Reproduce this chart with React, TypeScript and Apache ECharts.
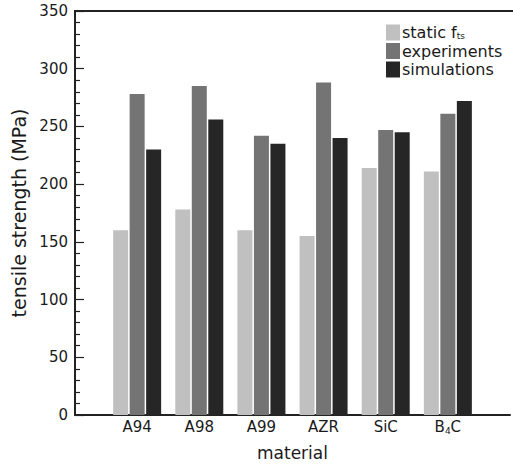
import React, { useEffect, useRef } from "react";
import * as echarts from "echarts";

const materials = ["", "A94", "A98", "A99", "AZR", "SiC", "B4C", ""];
const staticFts = [160, 178, 160, 155, 214, 211];
const experiments = [278, 285, 242, 288, 247, 261];
const simulations = [230, 256, 235, 240, 245, 272];
const yTicks = { min: 0, max: 350, interval: 50 };

const FONT = "DejaVu Sans";
const AXIS = "#222222";
const TXT = "#1a1a1a";

export default function App() {
  const ref = useRef<HTMLDivElement>(null);
  useEffect(() => {
    if (!ref.current) return;
    const chart = echarts.init(ref.current, undefined, { renderer: "svg" });
    const mk = (vals: number[]) => vals.map((v, i) => [i + 1, v]);
    const barCommon = { type: "bar", barWidth: 15, barGap: "10%", xAxisIndex: 0, yAxisIndex: 0 };
    chart.setOption({
      animation: false,
      backgroundColor: "#ffffff",
      textStyle: { fontFamily: FONT },
      grid: {
        left: 75,
        top: 11,
        bottom: 50,
        right: -9.5,
        show: false,
      },
      graphic: [
        {
          type: "line",
          silent: true,
          z: 10,
          shape: { x1: 74, y1: 11, x2: 513, y2: 11 },
          style: { stroke: AXIS, lineWidth: 2 },
        },
      ],
      legend: {
        orient: "vertical",
        left: 386,
        top: 24.5,
        padding: 0,
        itemWidth: 14,
        itemHeight: 16,
        itemGap: 2.5,
        icon: "rect",
        selectedMode: false,
        data: ["static fts", "experiments", "simulations"],
        formatter: (name: string) =>
          name === "static fts" ? "{n|static f}{s|ts}" : "{n|" + name + "}",
        textStyle: {
          fontFamily: FONT,
          fontSize: 16,
          color: TXT,
          padding: [0, 0, 0, -3],
          rich: {
            n: { fontFamily: FONT, fontSize: 16, lineHeight: 16, color: TXT },
            s: {
              fontFamily: FONT,
              fontSize: 9,
              lineHeight: 6,
              verticalAlign: "bottom",
              color: TXT,
            },
          },
        },
      },
      xAxis: {
        type: "value",
        min: 0,
        max: 7,
        interval: 1,
        name: "material",
        nameLocation: "middle",
        nameGap: 29,
        nameTextStyle: { fontFamily: FONT, fontSize: 17, color: TXT },
        axisLine: { show: true, onZero: false, lineStyle: { color: AXIS, width: 2 } },
        axisTick: { show: false },
        splitLine: { show: false },
        axisLabel: {
          margin: 4,
          color: TXT,
          fontFamily: FONT,
          fontSize: 15,
          formatter: (v: number) => {
            const n = materials[Math.round(v)] || "";
            if (!n) return "";
            if (n === "B4C") return "{a|B}{s|4}{a|C}";
            return "{a|" + n + "}";
          },
          rich: {
            a: { fontFamily: FONT, fontSize: 15, lineHeight: 16, color: TXT },
            s: {
              fontFamily: FONT,
              fontSize: 9,
              lineHeight: 6,
              verticalAlign: "bottom",
              color: TXT,
            },
          },
        },
      },
      yAxis: {
        type: "value",
        min: yTicks.min,
        max: yTicks.max,
        interval: yTicks.interval,
        name: "tensile strength (MPa)",
        nameLocation: "middle",
        nameGap: 38,
        nameTextStyle: { fontFamily: FONT, fontSize: 19, color: TXT },
        axisLine: { show: true, onZero: false, lineStyle: { color: AXIS, width: 2 } },
        axisTick: { show: true, inside: true, length: 9, lineStyle: { color: AXIS, width: 1.2 } },
        minorTick: { show: true, splitNumber: 5, length: 5, lineStyle: { color: AXIS, width: 1.2 } },
        splitLine: { show: false },
        axisLabel: { margin: 7, color: TXT, fontFamily: FONT, fontSize: 15 },
      },
      series: [
        { ...barCommon, name: "static fts", data: mk(staticFts), itemStyle: { color: "#c0c0c0" } },
        { ...barCommon, name: "experiments", data: mk(experiments), itemStyle: { color: "#747474" } },
        { ...barCommon, name: "simulations", data: mk(simulations), itemStyle: { color: "#262626" } },
      ],
    });
    return () => chart.dispose();
  }, []);
  return (
    <div
      ref={ref}
      style={{ position: "fixed", left: 0, top: 0, width: 513, height: 466, background: "#fff" }}
    />
  );
}
